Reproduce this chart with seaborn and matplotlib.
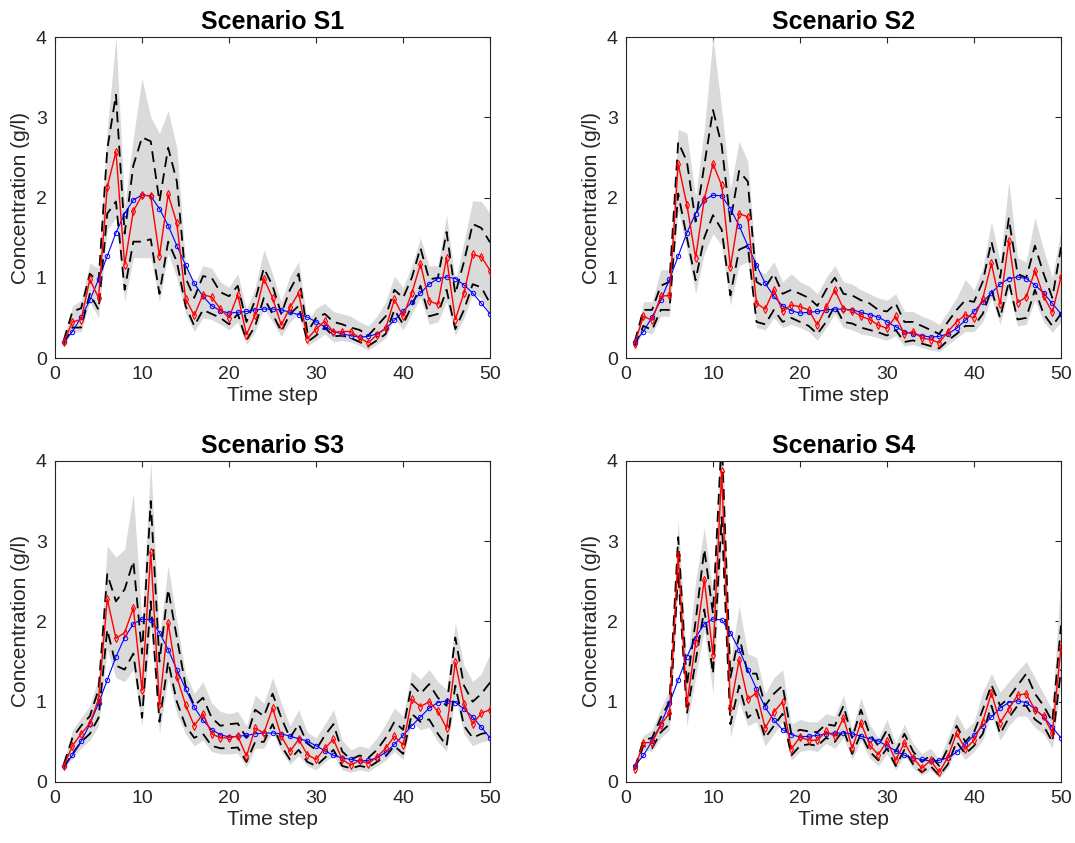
import numpy as np
import matplotlib
matplotlib.use("Agg")
import matplotlib.pyplot as plt
import seaborn as sns

# time steps
t = list(range(1, 51))

# reference (true) concentration, same for every scenario
true_conc = [0.20, 0.33, 0.51, 0.72, 0.98, 1.27, 1.56, 1.80, 1.97, 2.03,
             2.02, 1.86, 1.65, 1.40, 1.16, 0.93, 0.77, 0.65, 0.59, 0.56,
             0.57, 0.58, 0.60, 0.61, 0.61, 0.60, 0.57, 0.54, 0.51, 0.45,
             0.39, 0.33, 0.30, 0.28, 0.26, 0.27, 0.30, 0.37, 0.47, 0.58,
             0.70, 0.81, 0.92, 0.99, 1.01, 0.99, 0.91, 0.81, 0.68, 0.55]

# Scenario S1
est_s1 = [0.20, 0.45, 0.48, 0.98, 0.75, 2.13, 2.57, 1.16, 1.83, 2.03,
          2.02, 1.27, 2.04, 1.68, 0.74, 0.53, 0.79, 0.76, 0.61, 0.50,
          0.79, 0.29, 0.54, 0.99, 0.75, 0.41, 0.63, 0.81, 0.24, 0.36,
          0.46, 0.32, 0.33, 0.33, 0.25, 0.19, 0.29, 0.37, 0.73, 0.52,
          0.81, 1.17, 0.71, 0.67, 1.25, 0.48, 0.81, 1.29, 1.26, 1.09]
low_s1 = [0.18, 0.38, 0.38, 0.80, 0.60, 1.80, 1.95, 0.85, 1.45, 1.45,
          1.48, 0.80, 1.45, 1.20, 0.65, 0.40, 0.60, 0.55, 0.50, 0.42,
          0.55, 0.22, 0.40, 0.75, 0.55, 0.33, 0.55, 0.65, 0.20, 0.28,
          0.38, 0.27, 0.28, 0.25, 0.20, 0.15, 0.22, 0.30, 0.60, 0.42,
          0.65, 0.90, 0.52, 0.55, 0.85, 0.36, 0.60, 0.92, 0.88, 0.68]
up_s1 = [0.22, 0.58, 0.62, 1.05, 0.95, 2.60, 3.28, 1.55, 2.40, 2.75,
         2.70, 1.95, 2.62, 2.20, 1.00, 0.75, 1.02, 1.00, 0.82, 0.77,
         0.90, 0.45, 0.72, 1.12, 0.90, 0.55, 0.85, 1.05, 0.32, 0.50,
         0.55, 0.45, 0.42, 0.38, 0.35, 0.28, 0.40, 0.52, 0.85, 0.75,
         1.00, 1.37, 0.98, 1.00, 1.57, 0.80, 1.20, 1.67, 1.62, 1.44]
min_s1 = [0.16, 0.32, 0.33, 0.70, 0.50, 1.60, 1.75, 0.70, 1.25, 1.25,
          1.25, 0.70, 1.30, 1.00, 0.55, 0.33, 0.50, 0.48, 0.42, 0.35,
          0.45, 0.17, 0.33, 0.62, 0.45, 0.27, 0.45, 0.55, 0.15, 0.22,
          0.30, 0.20, 0.22, 0.20, 0.15, 0.10, 0.17, 0.25, 0.50, 0.35,
          0.55, 0.75, 0.42, 0.45, 0.70, 0.28, 0.50, 0.80, 0.75, 0.55]
max_s1 = [0.24, 0.65, 0.72, 1.18, 1.12, 2.85, 4.00, 1.90, 2.75, 3.48,
          3.00, 2.80, 3.08, 2.62, 1.18, 0.92, 1.15, 1.12, 0.95, 0.88,
          1.05, 0.60, 0.88, 1.35, 1.05, 0.70, 1.02, 1.20, 0.45, 0.62,
          0.68, 0.58, 0.55, 0.52, 0.45, 0.40, 0.52, 0.70, 1.02, 0.88,
          1.15, 1.50, 1.15, 1.15, 1.78, 0.95, 1.45, 1.96, 1.95, 1.80]

# Scenario S2
est_s2 = [0.18, 0.52, 0.47, 0.77, 0.78, 2.42, 1.91, 1.25, 1.98, 2.42,
          2.15, 1.13, 1.80, 1.76, 0.68, 0.61, 0.85, 0.58, 0.66, 0.64,
          0.60, 0.41, 0.63, 0.85, 0.61, 0.59, 0.52, 0.48, 0.41, 0.37,
          0.52, 0.30, 0.33, 0.25, 0.23, 0.19, 0.33, 0.45, 0.54, 0.50,
          0.74, 1.18, 0.67, 1.46, 0.69, 0.76, 1.09, 0.77, 0.57, 1.01]
low_s2 = [0.15, 0.40, 0.35, 0.60, 0.60, 2.05, 1.50, 0.97, 1.50, 1.78,
          1.60, 0.78, 1.35, 1.40, 0.45, 0.42, 0.60, 0.45, 0.50, 0.45,
          0.40, 0.30, 0.45, 0.65, 0.45, 0.43, 0.38, 0.35, 0.32, 0.28,
          0.35, 0.20, 0.22, 0.18, 0.15, 0.12, 0.22, 0.30, 0.40, 0.40,
          0.55, 0.85, 0.50, 0.95, 0.48, 0.50, 0.85, 0.55, 0.40, 0.55]
up_s2 = [0.20, 0.60, 0.60, 0.90, 0.95, 2.69, 2.45, 1.70, 2.40, 3.09,
         2.65, 1.70, 2.33, 2.20, 0.95, 0.88, 1.05, 0.80, 0.85, 0.80,
         0.75, 0.65, 0.85, 1.00, 0.80, 0.78, 0.72, 0.68, 0.60, 0.58,
         0.68, 0.45, 0.45, 0.40, 0.35, 0.30, 0.45, 0.60, 0.72, 0.70,
         0.95, 1.45, 1.00, 1.74, 1.05, 1.00, 1.40, 1.05, 0.75, 1.38]
min_s2 = [0.13, 0.33, 0.30, 0.52, 0.52, 1.85, 1.35, 0.80, 1.30, 1.55,
          1.40, 0.65, 1.15, 1.20, 0.38, 0.35, 0.50, 0.38, 0.42, 0.38,
          0.33, 0.22, 0.38, 0.55, 0.38, 0.35, 0.30, 0.28, 0.25, 0.22,
          0.28, 0.15, 0.17, 0.13, 0.10, 0.08, 0.17, 0.25, 0.33, 0.33,
          0.45, 0.75, 0.42, 0.85, 0.40, 0.42, 0.72, 0.45, 0.32, 0.45]
max_s2 = [0.22, 0.70, 0.70, 1.10, 1.10, 2.85, 2.80, 2.00, 2.85, 4.00,
          3.10, 2.10, 2.70, 2.45, 1.10, 1.05, 1.20, 0.95, 1.05, 0.95,
          0.90, 0.80, 1.00, 1.15, 0.95, 0.92, 0.85, 0.80, 0.75, 0.72,
          0.80, 0.58, 0.58, 0.52, 0.48, 0.42, 0.58, 0.75, 0.98, 0.85,
          1.12, 1.70, 1.20, 2.20, 1.25, 1.20, 1.75, 1.35, 1.00, 1.60]

# Scenario S3
est_s3 = [0.20, 0.45, 0.60, 0.73, 1.03, 2.28, 1.79, 1.86, 2.17, 1.14,
          2.86, 0.96, 1.98, 1.31, 0.96, 0.70, 0.85, 0.60, 0.55, 0.55,
          0.57, 0.32, 0.67, 0.61, 0.92, 0.57, 0.38, 0.53, 0.34, 0.28,
          0.42, 0.53, 0.28, 0.21, 0.27, 0.23, 0.31, 0.42, 0.57, 0.46,
          1.03, 0.94, 1.00, 0.88, 0.67, 1.49, 0.97, 0.72, 0.86, 0.90]
low_s3 = [0.18, 0.35, 0.50, 0.60, 0.80, 1.90, 1.45, 1.40, 1.60, 0.80,
          2.25, 0.75, 1.50, 1.00, 0.70, 0.55, 0.60, 0.45, 0.42, 0.42,
          0.43, 0.25, 0.50, 0.50, 0.72, 0.45, 0.28, 0.40, 0.25, 0.20,
          0.30, 0.40, 0.20, 0.17, 0.20, 0.18, 0.25, 0.32, 0.45, 0.35,
          0.85, 0.75, 0.78, 0.60, 0.45, 1.20, 0.70, 0.55, 0.60, 0.62]
up_s3 = [0.22, 0.55, 0.70, 0.82, 1.15, 2.59, 2.25, 2.40, 2.75, 1.60,
         3.50, 1.50, 2.40, 1.80, 1.20, 0.95, 1.05, 0.80, 0.70, 0.72,
         0.73, 0.55, 0.90, 0.82, 1.10, 0.80, 0.55, 0.72, 0.48, 0.40,
         0.58, 0.72, 0.38, 0.28, 0.33, 0.30, 0.40, 0.55, 0.75, 0.65,
         1.22, 1.10, 1.22, 1.05, 0.95, 1.80, 1.20, 1.00, 1.10, 1.24]
min_s3 = [0.16, 0.30, 0.42, 0.52, 0.70, 1.65, 1.30, 1.25, 1.40, 0.70,
          1.95, 0.60, 1.30, 0.85, 0.60, 0.45, 0.52, 0.38, 0.35, 0.35,
          0.36, 0.18, 0.42, 0.42, 0.62, 0.38, 0.22, 0.33, 0.20, 0.15,
          0.25, 0.33, 0.15, 0.12, 0.15, 0.13, 0.20, 0.27, 0.38, 0.28,
          0.75, 0.65, 0.68, 0.50, 0.38, 1.05, 0.60, 0.45, 0.50, 0.52]
max_s3 = [0.24, 0.65, 0.80, 0.95, 1.30, 2.94, 2.80, 2.90, 3.60, 2.00,
          4.00, 1.80, 2.70, 2.00, 1.35, 1.10, 1.25, 0.98, 0.88, 0.85,
          0.88, 0.70, 1.08, 0.98, 1.30, 0.98, 0.70, 0.90, 0.62, 0.55,
          0.72, 0.90, 0.52, 0.40, 0.45, 0.42, 0.55, 0.72, 0.92, 0.82,
          1.38, 1.28, 1.40, 1.25, 1.15, 1.98, 1.45, 1.25, 1.35, 1.60]

# Scenario S4
est_s4 = [0.16, 0.49, 0.49, 0.71, 0.86, 2.83, 0.97, 1.73, 2.52, 1.58,
          3.87, 0.92, 1.52, 1.03, 1.11, 0.67, 0.87, 1.00, 0.41, 0.56,
          0.52, 0.52, 0.63, 0.57, 0.80, 0.42, 0.74, 0.46, 0.34, 0.51,
          0.27, 0.49, 0.30, 0.17, 0.27, 0.12, 0.31, 0.61, 0.41, 0.52,
          0.75, 1.11, 0.74, 0.91, 1.08, 1.10, 0.90, 0.82, 0.61, 1.68]
low_s4 = [0.15, 0.45, 0.42, 0.62, 0.72, 2.62, 0.85, 1.50, 2.15, 1.35,
          3.30, 0.72, 1.20, 0.80, 0.90, 0.55, 0.70, 0.85, 0.33, 0.45,
          0.47, 0.45, 0.55, 0.50, 0.65, 0.35, 0.60, 0.38, 0.27, 0.42,
          0.20, 0.40, 0.22, 0.12, 0.20, 0.08, 0.22, 0.50, 0.35, 0.45,
          0.60, 0.95, 0.60, 0.80, 0.95, 0.95, 0.78, 0.70, 0.50, 1.40]
up_s4 = [0.17, 0.52, 0.55, 0.80, 1.00, 3.05, 1.20, 2.00, 2.90, 2.10,
         4.30, 1.30, 1.82, 1.35, 1.35, 0.95, 1.10, 1.20, 0.60, 0.65,
         0.63, 0.62, 0.72, 0.70, 0.95, 0.55, 0.90, 0.60, 0.45, 0.65,
         0.38, 0.60, 0.38, 0.25, 0.33, 0.20, 0.42, 0.70, 0.50, 0.62,
         0.90, 1.21, 0.95, 1.05, 1.20, 1.35, 1.10, 0.95, 0.75, 1.95]
min_s4 = [0.13, 0.40, 0.38, 0.55, 0.65, 2.45, 0.70, 1.30, 1.90, 1.10,
          3.00, 0.55, 1.00, 0.70, 0.75, 0.45, 0.60, 0.75, 0.27, 0.38,
          0.40, 0.38, 0.48, 0.42, 0.55, 0.28, 0.52, 0.30, 0.20, 0.35,
          0.15, 0.33, 0.17, 0.08, 0.15, 0.05, 0.17, 0.42, 0.28, 0.38,
          0.52, 0.85, 0.52, 0.70, 0.82, 0.82, 0.68, 0.60, 0.42, 1.25]
max_s4 = [0.19, 0.58, 0.65, 0.92, 1.15, 3.27, 1.45, 2.50, 3.17, 2.35,
          4.50, 1.50, 2.20, 1.60, 1.55, 1.10, 1.30, 1.40, 0.72, 0.78,
          0.75, 0.75, 0.85, 0.82, 1.08, 0.65, 1.05, 0.72, 0.55, 0.78,
          0.48, 0.72, 0.48, 0.35, 0.42, 0.28, 0.55, 0.85, 0.65, 0.75,
          1.12, 1.35, 1.12, 1.25, 1.38, 1.50, 1.30, 1.10, 0.90, 2.60]

titles = ["Scenario S1", "Scenario S2", "Scenario S3", "Scenario S4"]
scenarios = [
    (est_s1, low_s1, up_s1, min_s1, max_s1),
    (est_s2, low_s2, up_s2, min_s2, max_s2),
    (est_s3, low_s3, up_s3, min_s3, max_s3),
    (est_s4, low_s4, up_s4, min_s4, max_s4),
]

sns.set_theme(style="white")
plt.rcParams['font.family'] = ['Liberation Sans', 'DejaVu Sans']
plt.rcParams['axes.edgecolor'] = '#262626'
plt.rcParams['axes.linewidth'] = 0.8

fig = plt.figure(figsize=(10.75, 8.43), dpi=100)
positions = [
    [0.0512, 0.5753, 0.4047, 0.3808],
    [0.5823, 0.5753, 0.4047, 0.3808],
    [0.0512, 0.0724, 0.4047, 0.3808],
    [0.5823, 0.0724, 0.4047, 0.3808],
]

for pos, title, (est, low, up, gmin, gmax) in zip(positions, titles, scenarios):
    ax = fig.add_axes(pos)
    # ensemble spread
    ax.fill_between(t, gmin, gmax, color='#dadada', linewidth=0, zorder=1)
    # percentile bounds
    sns.lineplot(x=t, y=low, ax=ax, color='black', linestyle=(0, (6, 3.5)),
                 linewidth=1.3, zorder=2)
    sns.lineplot(x=t, y=up, ax=ax, color='black', linestyle=(0, (6, 3.5)),
                 linewidth=1.3, zorder=2)
    # true concentration
    sns.lineplot(x=t, y=true_conc, ax=ax, color='#0000ff', linewidth=0.8,
                 marker='o', markersize=3.2, markerfacecolor='none',
                 markeredgecolor='#0000ff', markeredgewidth=0.7, zorder=3)
    # estimate
    sns.lineplot(x=t, y=est, ax=ax, color='#ff0000', linewidth=1.0,
                 marker='d', markersize=4.2, markerfacecolor='none',
                 markeredgecolor='#ff0000', markeredgewidth=0.8, zorder=4)

    ax.set_xlim(0, 50)
    ax.set_ylim(0, 4)
    ax.set_xticks([0, 10, 20, 30, 40, 50])
    ax.set_yticks([0, 1, 2, 3, 4])
    ax.tick_params(direction='in', top=True, right=True, length=4,
                   width=0.8, color='#262626', labelsize=14,
                   labelcolor='#262626', pad=6)
    ax.set_xlabel("Time step", fontsize=15, color='#262626', labelpad=2)
    ax.set_ylabel("Concentration (g/l)", fontsize=15, color='#262626',
                  labelpad=4)
    ax.set_title(title, fontsize=18, fontweight='bold', color='black', pad=6)
    for s in ax.spines.values():
        s.set_visible(True)
        s.set_color('#262626')

fig.savefig("out.png", dpi=100)
